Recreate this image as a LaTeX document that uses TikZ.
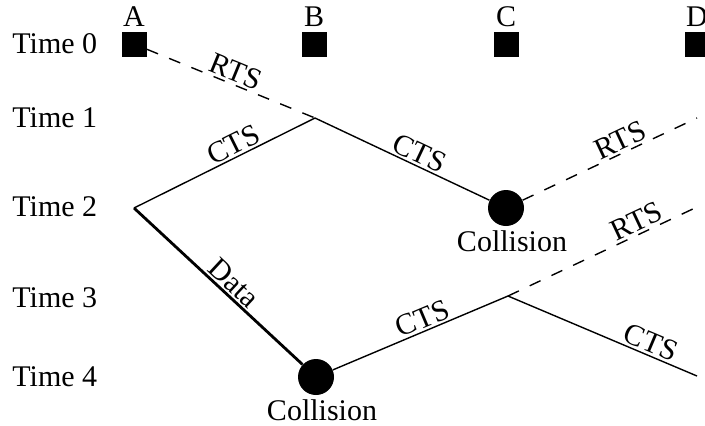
\documentclass[tikz,border=0pt]{standalone}
\usepackage{fontspec}
\setmainfont{Liberation Serif}
\usetikzlibrary{positioning}

\begin{document}
\begin{tikzpicture}[x=0.5pt, y=-0.5pt, font=\fontsize{15}{18}\selectfont,
station/.style = {rectangle, fill=black, minimum size=12.5pt, inner sep=0pt},
collision/.style = {circle, fill=black, minimum size=18pt, inner sep=0pt},
timelabel/.style = {anchor=west, inner sep=0pt},
msg/.style = {sloped, above, inner sep=1pt},
line/.style = {draw, line width=0.7pt},
rts/.style = {line, dash pattern=on 6pt off 6pt},
data/.style = {draw, line width=1.4pt}]

\useasboundingbox (0,0) rectangle (705,425);

\foreach \t/\y in {0/44,1/118,2/207,3/298,4/377}
  \node [timelabel] (time\t) at (12,\y) {Time \t};

\foreach \s/\x in {A/134,B/314,C/506,D/697} {
  \node [station] (\s) at (\x,44) {};
  \node [above=1pt of \s, inner sep=1pt] (lab\s) {\s};
}

\coordinate (b1) at (315,118);
\coordinate (a2) at (134,208);
\coordinate (c3) at (508,296);
\coordinate (d1) at (697,118);
\coordinate (d2) at (697,207);
\coordinate (d4) at (697,376);

\node [collision] (colC) at (506,208) {};
\node [collision] (colB) at (316,377) {};
\node [below=1pt of colC, inner sep=1pt, xshift=3pt] (colClab) {Collision};
\node [below=1pt of colB, inner sep=1pt, xshift=3pt] (colBlab) {Collision};

\path [rts] (A) -- node [msg, pos=0.5] {RTS} (b1);
\path [line] (a2) -- node [msg, pos=0.58] {CTS} (b1);
\path [line] (b1) -- node [msg, pos=0.57] {CTS} (colC);
\path [rts] (colC) -- node [msg, pos=0.59] {RTS} (d1);
\path [data] (a2) -- node [msg, pos=0.54] {Data} (colB);
\path [line] (colB) -- node [msg, pos=0.54] {CTS} (c3);
\path [rts] (c3) -- node [msg, pos=0.71] {RTS} (d2);
\path [line] (c3) -- node [msg, pos=0.73] {CTS} (d4);
\end{tikzpicture}
\end{document}
